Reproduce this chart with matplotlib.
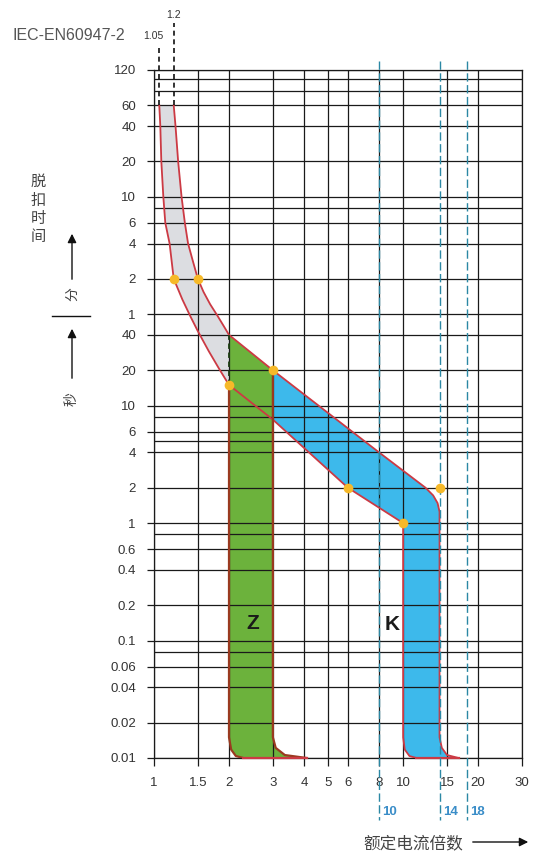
"""Tripping characteristic chart (Z / K curves) per IEC-EN60947-2."""

import matplotlib

matplotlib.use("Agg")
import matplotlib.pyplot as plt
from matplotlib.patches import FancyArrowPatch, Polygon
from matplotlib.lines import Line2D

plt.rcParams["font.family"] = ["Liberation Sans", "Noto Sans CJK SC", "DejaVu Sans"]

# --- data: multiple of rated current (x) vs trip time in seconds (y) ------
# thermal band (grey): lower / upper limit
therm_lo_i = [1.05, 1.06, 1.07, 1.09, 1.11, 1.155, 1.2, 1.3, 1.4, 1.5, 1.66, 1.83, 2.0]
therm_lo_t = [3600, 2400, 1200, 600, 360, 240, 120, 80, 57.5, 43, 29, 20.4, 15]
therm_hi_i = [1.2, 1.22, 1.25, 1.29, 1.33, 1.37, 1.43, 1.5, 1.58, 1.68, 1.8, 1.9, 2.0]
therm_hi_t = [3600, 2400, 1200, 600, 360, 240, 172, 120, 93, 73, 58, 48, 40]

# K curve (blue): lower / upper limit
k_lo_i = [2.0, 3.0, 6.0, 10.0, 10.0, 10.15, 10.6, 11.3]
k_lo_t = [15, 7.6, 2, 1, 0.015, 0.0118, 0.0104, 0.01]
k_hi_i = [2.0, 3.0, 8.0, 12.3, 13.2, 13.75, 14.0, 14.0, 14.3, 15.0, 16.7]
k_hi_t = [40, 20, 4, 2.0, 1.72, 1.48, 1.25, 0.015, 0.0122, 0.0106, 0.01]

# Z curve (green): lower / upper limit
z_lo_i = [2.0, 2.0, 2.04, 2.13, 2.28]
z_lo_t = [15, 0.015, 0.0118, 0.0104, 0.01]
z_hi_i = [2.0, 3.0, 3.0, 3.08, 3.35, 4.1]
z_hi_t = [40, 20, 0.015, 0.0122, 0.0106, 0.01]

# test points
dot_i = [1.2, 1.5, 2, 3, 6, 10, 14]
dot_t = [120, 120, 15, 20, 2, 1, 2]

# conventional currents (top) and instantaneous references (bottom)
conv_i = [1.05, 1.2]
conv_lbl = ["1.05", "1.2"]
ref_i = [8, 14, 18]
ref_lbl = ["10", "14", "18"]

# axes ticks (y in seconds; upper part labelled in minutes)
y_major = [7200, 3600, 2400, 1200, 600, 360, 240, 120, 60,
           40, 20, 10, 6, 4, 2, 1, 0.6, 0.4, 0.2, 0.1, 0.06, 0.04, 0.02, 0.01]
y_labels = ["120", "60", "40", "20", "10", "6", "4", "2", "1",
            "40", "20", "10", "6", "4", "2", "1", "0.6", "0.4", "0.2", "0.1",
            "0.06", "0.04", "0.02", "0.01"]
y_minor = [6000, 4800, 480, 8, 5, 0.8, 0.08]
x_major = [1, 1.5, 2, 3, 4, 5, 6, 8, 10, 15, 20, 30]
x_labels = ["1", "1.5", "2", "3", "4", "5", "6", "8", "10", "15", "20", "30"]

_RED = "#cc3a44"
_BROWN = "#9a3a20"
_GREY = "#dcdde1"
_GREEN = "#6cb23c"
_BLUE = "#3db9eb"
_TEAL = "#2b88a4"
_DOT = "#f6b929"
_TXT = "#333333"

W, H = 533, 859


def fx(x):
    return x / W


def fy(y):
    return 1 - y / H


fig = plt.figure(figsize=(W / 100, H / 100), dpi=100)
ax = fig.add_axes([fx(154), fy(758), (522 - 154) / W, (758 - 70) / H])
ax.set_xscale("log")
ax.set_yscale("log")
ax.set_xlim(x_major[0], x_major[-1])
ax.set_ylim(y_major[-1], y_major[0])

# --- fills --------------------------------------------------------------
grey = list(zip(therm_lo_i, therm_lo_t)) + list(zip(therm_hi_i, therm_hi_t))[::-1]
ax.add_patch(Polygon(grey, closed=True, facecolor=_GREY, edgecolor="none", zorder=1))

green = list(zip(z_hi_i, z_hi_t)) + list(zip(z_lo_i, z_lo_t))[::-1]
ax.add_patch(Polygon(green, closed=True, facecolor=_GREEN, edgecolor="none", zorder=1))

blue = list(zip(k_hi_i[1:], k_hi_t[1:])) + list(zip(k_lo_i[1:], k_lo_t[1:]))[::-1]
ax.add_patch(Polygon(blue, closed=True, facecolor=_BLUE, edgecolor="none", zorder=1))

# --- grid ---------------------------------------------------------------
ax.set_axisbelow(False)
ax.xaxis.set_major_locator(plt.FixedLocator(x_major))
ax.xaxis.set_minor_locator(plt.NullLocator())
ax.set_xticklabels(x_labels)
ax.yaxis.set_major_locator(plt.FixedLocator(y_major))
ax.yaxis.set_minor_locator(plt.FixedLocator(y_minor))
ax.yaxis.set_minor_formatter(plt.NullFormatter())
ax.set_yticklabels(y_labels)
ax.grid(which="both", color="#1a1a1a", lw=0.9)
ax.tick_params(axis="y", which="major", length=5, width=0.9, pad=8,
               labelsize=9.5, labelcolor=_TXT, color="#1a1a1a")
ax.tick_params(axis="y", which="minor", length=0)
ax.tick_params(axis="x", which="major", length=6, width=0.9, pad=8,
               labelsize=9.5, labelcolor=_TXT, color="#1a1a1a")
for sp in ax.spines.values():
    sp.set_color("#1a1a1a")
    sp.set_linewidth(0.9)

# --- outlines -----------------------------------------------------------
ax.plot(therm_lo_i + k_lo_i[1:], therm_lo_t + k_lo_t[1:], color=_RED, lw=1.3, zorder=3)
ax.plot(therm_hi_i + k_hi_i[1:], therm_hi_t + k_hi_t[1:], color=_RED, lw=1.3, zorder=3,
        clip_on=False)
ax.plot(z_lo_i, z_lo_t, color=_BROWN, lw=1.6, zorder=3)
ax.plot(z_hi_i[1:], z_hi_t[1:], color=_BROWN, lw=1.6, zorder=3)
ax.plot([z_lo_i[-1], z_hi_i[-1]], [z_lo_t[-1], z_hi_t[-1]], color=_RED, lw=1.6,
        zorder=3, clip_on=False)
ax.plot([k_lo_i[-1], k_hi_i[-1]], [k_lo_t[-1], k_hi_t[-1]], color=_RED, lw=1.6,
        zorder=3, clip_on=False)
ax.plot([therm_lo_i[-1], therm_hi_i[-1]], [therm_lo_t[-1], therm_hi_t[-1]],
        color="#1d3d12", lw=1.3, ls=(0, (3, 2)), zorder=3)

ax.plot(dot_i, dot_t, "o", ms=7, color=_DOT, mec="none", zorder=5)

# --- conventional current markers above the chart -----------------------
conv_top = [11000, 18000]
for xi, top in zip(conv_i, conv_top):
    ax.plot([xi, xi], [therm_hi_t[0], top], color="#111111", lw=1.2,
            ls=(0, (3, 2.2)), clip_on=False, zorder=4)
ax.annotate(conv_lbl[0], xy=(conv_i[0], conv_top[0]), xytext=(3, 9),
            textcoords="offset points", ha="right", va="center", fontsize=7.5,
            color=_TXT, annotation_clip=False)
ax.annotate(conv_lbl[1], xy=(conv_i[1], conv_top[1]), xytext=(0, 2),
            textcoords="offset points", ha="center", va="bottom", fontsize=7.5,
            color=_TXT, annotation_clip=False)
fig.text(fx(12), fy(35), "IEC-EN60947-2", fontsize=11.5, color="#555555",
         ha="left", va="center")

# --- instantaneous reference lines --------------------------------------
for xi, lbl in zip(ref_i, ref_lbl):
    ax.plot([xi, xi], [1.013, -0.09], transform=ax.get_xaxis_transform(),
            color=_TEAL, lw=1.0, ls=(0, (6, 2.5)), clip_on=False, zorder=4)
    ax.annotate(lbl, xy=(xi, -0.078), xycoords=("data", "axes fraction"),
                xytext=(2.5, 0), textcoords="offset points", ha="left", va="center",
                fontsize=9.5, fontweight="bold", color="#3a8dc8",
                annotation_clip=False)

# --- curve names --------------------------------------------------------
ax.text(2.5, 0.14, "Z", fontsize=15, fontweight="bold", color="#1a1a1a",
        ha="center", va="center", zorder=6)
ax.text(9.0, 0.136, "K", fontsize=15, fontweight="bold", color="#1a1a1a",
        ha="center", va="center", zorder=6)

# --- axis titles --------------------------------------------------------
fig.text(fx(413), fy(843), "额定电流倍数", fontsize=12, color="#444444",
         ha="center", va="center")
fig.add_artist(FancyArrowPatch((fx(470), fy(842)), (fx(531), fy(842)),
                               transform=fig.transFigure, arrowstyle="-|>",
                               mutation_scale=13, color="#111111", lw=1.0))

for k, ch in enumerate("脱扣时间"):
    fig.text(fx(38), fy(182 + 18.5 * k), ch, fontsize=11, color="#444444",
             ha="center", va="center")
fig.add_artist(FancyArrowPatch((fx(72), fy(282)), (fx(72), fy(231)),
                               transform=fig.transFigure, arrowstyle="-|>",
                               mutation_scale=13, color="#111111", lw=1.0))
fig.add_artist(FancyArrowPatch((fx(72), fy(381)), (fx(72), fy(326)),
                               transform=fig.transFigure, arrowstyle="-|>",
                               mutation_scale=13, color="#111111", lw=1.0))
fig.text(fx(72), fy(294), "分", fontsize=10, color="#444444", rotation=90,
         ha="center", va="center")
fig.text(fx(72), fy(399), "秒", fontsize=10, color="#444444", rotation=90,
         ha="center", va="center")
fig.add_artist(Line2D([fx(52), fx(90)], [fy(316), fy(316)], color="#111111", lw=1.0))

fig.savefig("out.png", dpi=100, facecolor="white")
